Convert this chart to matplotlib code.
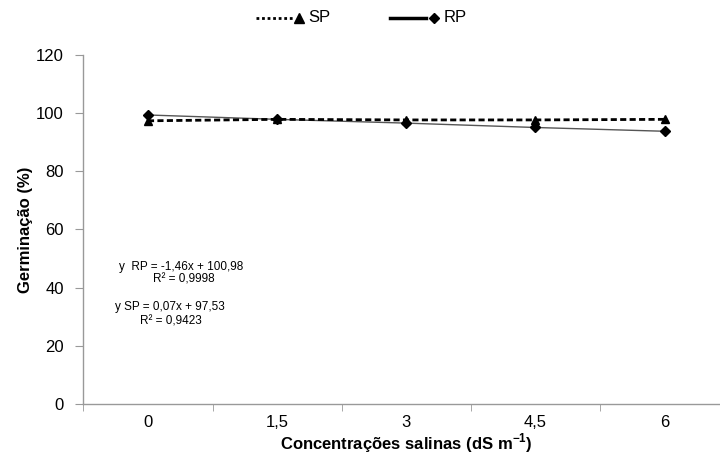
import matplotlib
matplotlib.use('Agg')
import matplotlib.pyplot as plt
from matplotlib.lines import Line2D

plt.rcParams['font.family'] = ['Liberation Sans', 'DejaVu Sans']

# Salinity levels (dS m-1) and germination (%)
conc_labels = ['0', '1,5', '3', '4,5', '6']
sp_germ = [97.3, 97.8, 97.6, 97.6, 97.8]
rp_germ = [99.3, 97.8, 96.5, 95.0, 93.7]

W, H = 720, 468
fig = plt.figure(figsize=(W / 100, H / 100), dpi=100)
ax = fig.add_axes([0.1158, 0.137, 0.897, 0.746])


def fx(px):
    return px / W


def fy(py):
    return 1 - py / H


x = range(len(conc_labels))
ax.plot(x, rp_germ, color='#555555', linewidth=1.0, marker='D', markersize=5,
        markerfacecolor='black', markeredgecolor='black')
ax.plot(x, sp_germ, color='black', linewidth=2.0, linestyle=(0, (2.2, 1.2)),
        marker='^', markersize=6, markerfacecolor='black', markeredgecolor='black')

ax.set_xlim(-0.5, len(conc_labels) - 0.5)
ax.set_ylim(0, 120)
ax.set_yticks(range(0, 121, 20))
ax.set_xticks(list(x))
ax.set_xticklabels(conc_labels)
ax.set_xticks([i + 0.5 for i in range(len(conc_labels) - 1)] + [-0.5], minor=True)
ax.tick_params(axis='x', which='major', length=0, pad=8, labelsize=12)
ax.tick_params(axis='x', which='minor', length=5, color='#999999', direction='out')
ax.tick_params(axis='y', length=6, color='#999999', labelsize=12, pad=8)

for side in ('top', 'right'):
    ax.spines[side].set_visible(False)
for side in ('left', 'bottom'):
    ax.spines[side].set_color('#999999')
    ax.spines[side].set_linewidth(1.0)

ax.set_ylabel('Germinação (%)', fontsize=12, fontweight='bold', labelpad=2)
ax.set_xlabel('Concentrações salinas (dS m$^{\\mathregular{-1}}$)', fontsize=12,
              fontweight='bold', labelpad=1)

# Regression equations
eq_kw = dict(fontsize=8.5, va='center')
fig.text(fx(119), fy(267), 'y  RP = -1,46x + 100,98', **eq_kw)
fig.text(fx(184), fy(279), 'R² = 0,9998', ha='center', **eq_kw)
fig.text(fx(115), fy(307), 'y SP = 0,07x + 97,53', **eq_kw)
fig.text(fx(171), fy(321), 'R² = 0,9423', ha='center', **eq_kw)

# Legend drawn by hand: line segment, marker at its right end, then label
leg_y = fy(18)
fig.add_artist(Line2D([fx(256), fx(293)], [leg_y, leg_y], color='black',
                      linewidth=2.0, linestyle=(0, (1.0, 1.0)), transform=fig.transFigure))
fig.add_artist(Line2D([fx(299)], [leg_y], color='black', marker='^', markersize=7,
                      transform=fig.transFigure))
fig.text(fx(308), leg_y, 'SP', fontsize=12, va='center')
fig.add_artist(Line2D([fx(390), fx(426)], [leg_y, leg_y], color='black',
                      linewidth=2.5, transform=fig.transFigure))
fig.add_artist(Line2D([fx(434)], [leg_y], color='black', marker='D', markersize=5,
                      transform=fig.transFigure))
fig.text(fx(444), leg_y, 'RP', fontsize=12, va='center')

fig.savefig('out.png', dpi=100)
